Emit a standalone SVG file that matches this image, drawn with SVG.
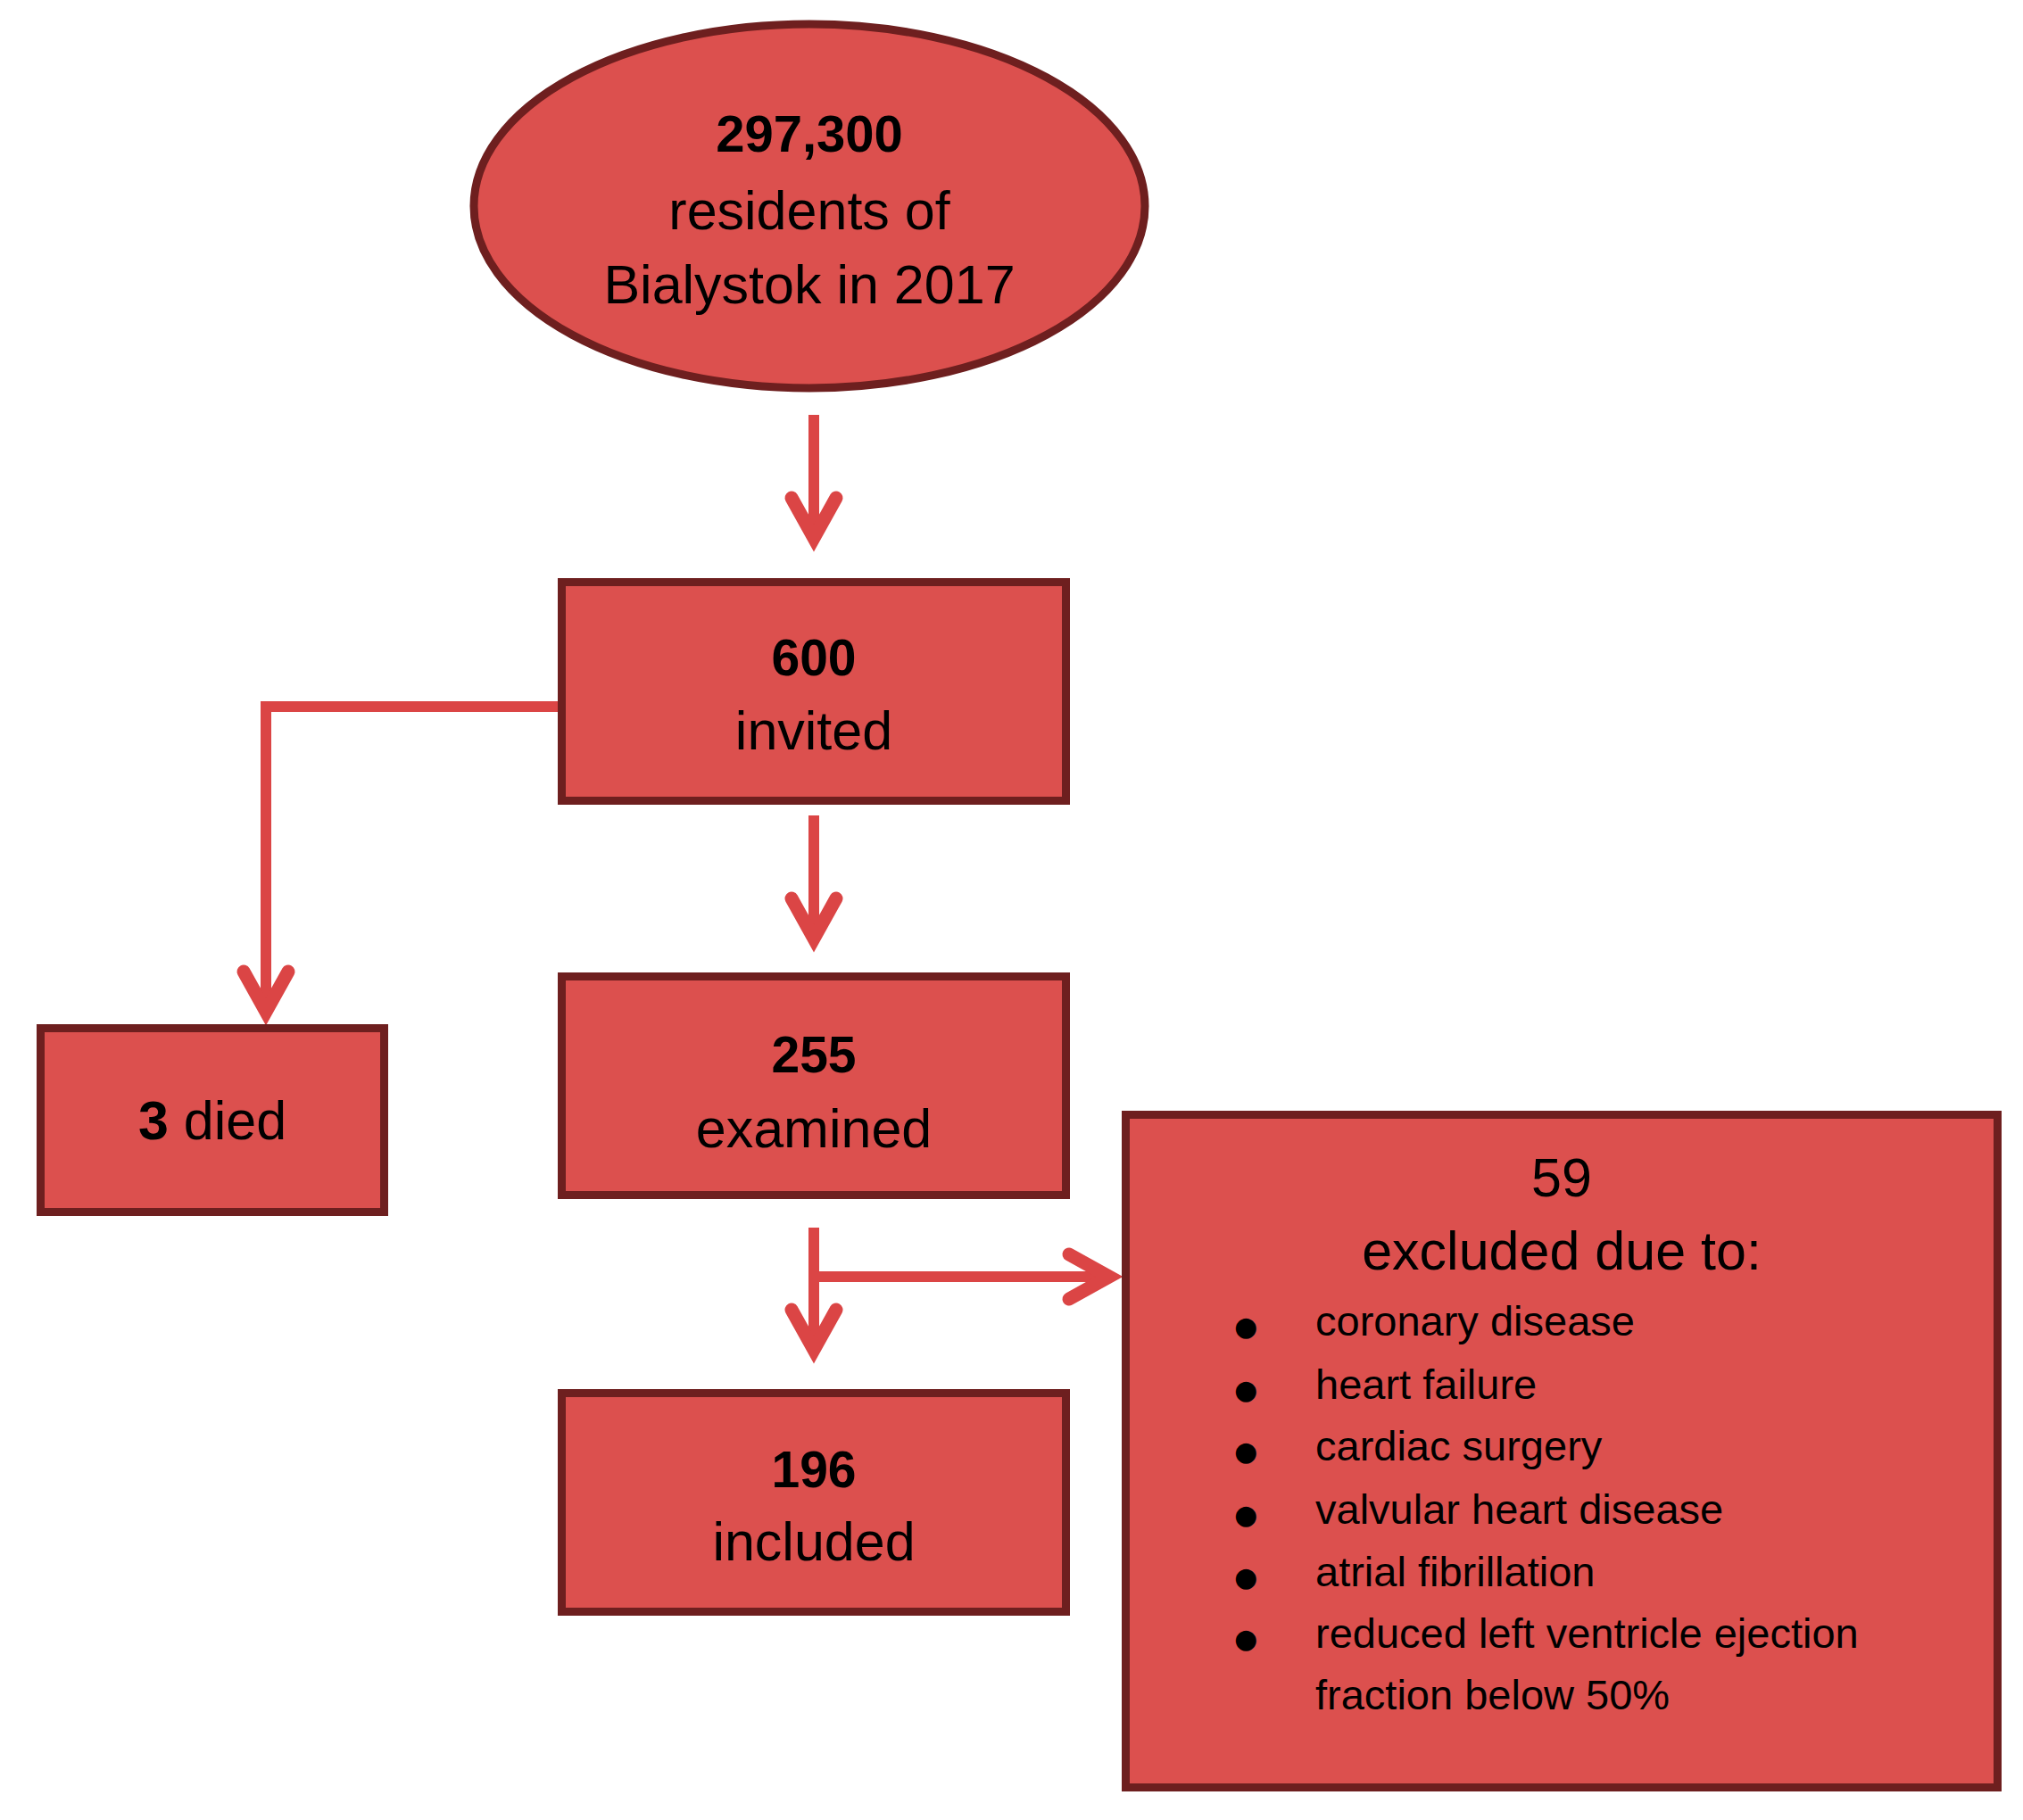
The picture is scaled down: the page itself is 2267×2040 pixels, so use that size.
<svg xmlns="http://www.w3.org/2000/svg" width="2267" height="2040" viewBox="0 0 2267 2040">
<style>
.node{fill:#dc504e;stroke:#6e1f1f;stroke-width:9}
.t{font-family:"Liberation Sans",Arial,sans-serif;font-size:61px;fill:#000;text-anchor:middle}
.b{font-weight:bold;font-size:57px}
.li{font-family:"Liberation Sans",Arial,sans-serif;font-size:47px;fill:#000}
.bul{font-family:"DejaVu Sans",sans-serif;font-size:30px;fill:#000;text-anchor:middle}
.con{fill:none;stroke:#db4545;stroke-width:12;stroke-linejoin:miter;marker-end:url(#ah)}
</style>
<defs>
<marker id="ah" markerUnits="userSpaceOnUse" viewBox="-60 -40 80 80" markerWidth="80" markerHeight="80" refX="0" refY="0" orient="auto">
<path d="M-45,-25 L0,0 L-45,25" fill="none" stroke="#db4545" stroke-width="15" stroke-linecap="round" stroke-linejoin="miter"/>
</marker>
</defs>
<rect width="2267" height="2040" fill="#fff"/>
<g id="connectors">
<path class="con" d="M912,465 V603"/>
<path class="con" d="M912,914 V1052"/>
<path class="con" d="M912,1376 V1513"/>
<path class="con" d="M912,1431 H1243"/>
<path class="con" d="M632,792 H298 V1134"/>
</g>
<g id="residents">
<ellipse class="node" cx="907" cy="231" rx="376" ry="204"/>
<text class="t b" x="907" y="170" style="font-size:58px">297,300</text>
<text class="t" x="907" y="257">residents of</text>
<text class="t" x="907" y="340">Bialystok in 2017</text>
</g>
<g id="invited">
<rect class="node" x="629.5" y="652.5" width="565" height="245"/>
<text class="t b" x="912" y="757">600</text>
<text class="t" x="912" y="840">invited</text>
</g>
<g id="died">
<rect class="node" x="45.5" y="1152.5" width="385" height="206"/>
<text class="t" x="238" y="1277"><tspan font-weight="bold">3</tspan> died</text>
</g>
<g id="examined">
<rect class="node" x="629.5" y="1094.5" width="565" height="245"/>
<text class="t b" x="912" y="1202">255</text>
<text class="t" x="912" y="1286">examined</text>
</g>
<g id="included">
<rect class="node" x="629.5" y="1561.5" width="565" height="245"/>
<text class="t b" x="912" y="1667">196</text>
<text class="t" x="912" y="1749">included</text>
</g>
<g id="excluded">
<rect class="node" x="1261.5" y="1249.5" width="977" height="754"/>
<text class="t" x="1750" y="1341">59</text>
<text class="t" x="1750" y="1423">excluded due to:</text>
<text class="bul" x="1396" y="1497">●</text>
<text class="li" x="1474" y="1497">coronary disease</text>
<text class="bul" x="1396" y="1568">●</text>
<text class="li" x="1474" y="1568">heart failure</text>
<text class="bul" x="1396" y="1637">●</text>
<text class="li" x="1474" y="1637">cardiac surgery</text>
<text class="bul" x="1396" y="1708">●</text>
<text class="li" x="1474" y="1708">valvular heart disease</text>
<text class="bul" x="1396" y="1778">●</text>
<text class="li" x="1474" y="1778">atrial fibrillation</text>
<text class="bul" x="1396" y="1847">●</text>
<text class="li" x="1474" y="1847">reduced left ventricle ejection</text>
<text class="li" x="1474" y="1916">fraction below 50%</text>
</g>
</svg>
